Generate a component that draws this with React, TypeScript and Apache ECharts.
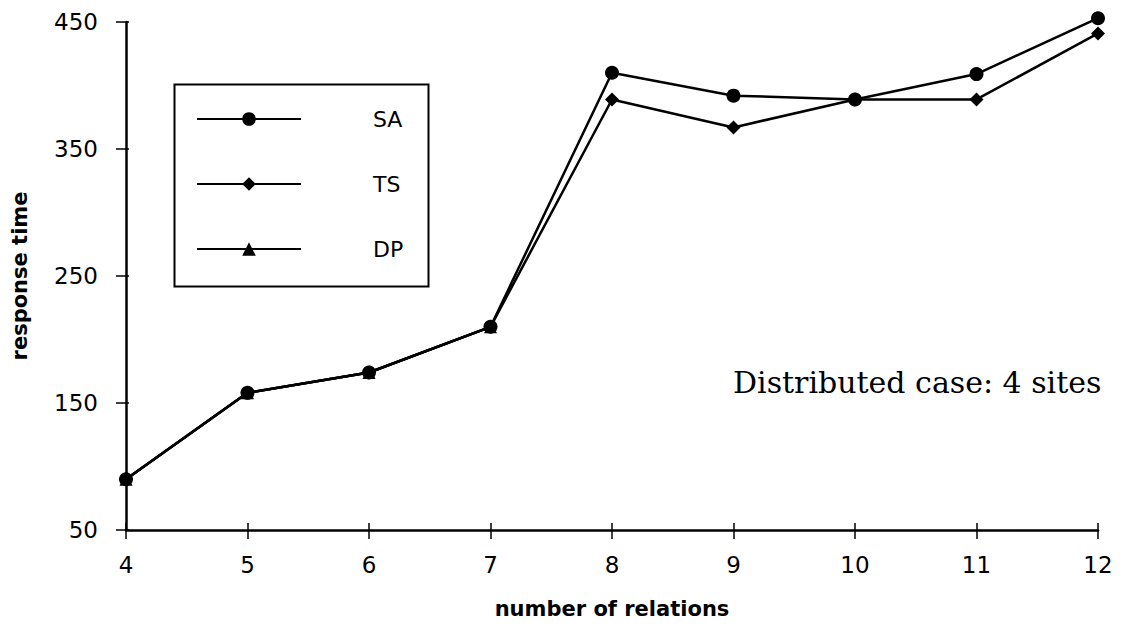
import React, { useEffect, useRef } from "react";
import * as echarts from "echarts";

const relations = [4, 5, 6, 7, 8, 9, 10, 11, 12];
const saValues = [90, 158, 174, 210, 410, 392, 389, 409, 453];
const tsValues = [90, 158, 174, 210, 389, 367, 389, 389, 441];
const dpValues = [90, 158, 174, 210];
const yTicks = [50, 150, 250, 350, 450];

const pairs = (xs: number[], ys: number[]) => ys.map((y, i) => [xs[i], y]);

export default function App() {
  const ref = useRef<HTMLDivElement>(null);
  useEffect(() => {
    document.body.style.margin = "0";
    const chart = echarts.init(ref.current!, undefined, { renderer: "svg" });
    const lineStyle = { color: "#000", width: 2.5 };
    const tickFont = { color: "#000", fontSize: 23, fontFamily: "DejaVu Sans" };
    const nameFont = { color: "#000", fontSize: 21, fontWeight: "bold", fontFamily: "DejaVu Sans" };
    chart.setOption({
      animation: false,
      backgroundColor: "#fff",
      grid: { left: 126, right: 27, top: 22, bottom: 97 },
      xAxis: [
        {
          type: "value",
          min: 4,
          max: 12,
          interval: 1,
          name: "number of relations",
          nameLocation: "middle",
          nameGap: 68,
          nameTextStyle: nameFont,
          axisLine: { lineStyle: { color: "#000", width: 2.5 } },
          axisTick: { show: true, inside: false, length: 9, lineStyle: { color: "#000", width: 1.5 } },
          axisLabel: { ...tickFont, margin: 23 },
          splitLine: { show: false },
        },
        {
          type: "value",
          min: 4,
          max: 12,
          interval: 1,
          position: "bottom",
          offset: 0,
          axisLine: { show: false },
          axisTick: { show: true, inside: true, length: 7, lineStyle: { color: "#000", width: 1.5 } },
          axisLabel: { show: false },
          splitLine: { show: false },
        },
      ],
      yAxis: [
        {
          type: "value",
          min: 50,
          max: 450,
          interval: 100,
          name: "response time",
          nameLocation: "middle",
          nameGap: 96,
          nameTextStyle: nameFont,
          axisLine: { show: true, lineStyle: { color: "#000", width: 2.5 } },
          axisTick: { show: true, inside: false, length: 10, lineStyle: { color: "#000", width: 1.5 } },
          axisLabel: {
            ...tickFont,
            margin: 28,
            formatter: (v: number) => (yTicks.includes(v) ? String(v) : ""),
          },
          splitLine: { show: false },
        },
        {
          type: "value",
          min: 50,
          max: 450,
          interval: 100,
          position: "left",
          offset: 0,
          axisLine: { show: false },
          axisTick: { show: true, inside: true, length: 3, lineStyle: { color: "#000", width: 1.5 } },
          axisLabel: { show: false },
          splitLine: { show: false },
        },
      ],
      legend: {
        orient: "vertical",
        left: 191,
        top: 103,
        itemWidth: 104,
        itemHeight: 17,
        itemGap: 43,
        textStyle: { color: "#000", fontSize: 22, fontFamily: "DejaVu Sans", padding: [0, 0, 0, 67] },
        data: ["SA", "TS", "DP"],
      },
      graphic: [
        {
          type: "rect",
          left: 172,
          top: 82,
          shape: { width: 254, height: 202 },
          style: { fill: "none", stroke: "#000", lineWidth: 2 },
          z: 10,
        },
        {
          type: "text",
          left: 733,
          top: 367,
          style: {
            text: "Distributed case: 4 sites",
            fill: "#000",
            font: "30px 'DejaVu Serif'",
          },
        },
      ],
      series: [
        {
          name: "DP",
          type: "line",
          data: pairs(relations, dpValues),
          symbol: "triangle",
          symbolSize: 13,
          itemStyle: { color: "#000" },
          lineStyle,
          clip: false,
          z: 2,
        },
        {
          name: "TS",
          type: "line",
          data: pairs(relations, tsValues),
          symbol: "diamond",
          symbolSize: 14,
          itemStyle: { color: "#000" },
          lineStyle,
          clip: false,
          z: 3,
        },
        {
          name: "SA",
          type: "line",
          data: pairs(relations, saValues),
          symbol: "circle",
          symbolSize: 14,
          itemStyle: { color: "#000" },
          lineStyle,
          clip: false,
          z: 4,
        },
      ],
    });
    return () => chart.dispose();
  }, []);
  return <div ref={ref} style={{ width: 1125, height: 627 }} />;
}
